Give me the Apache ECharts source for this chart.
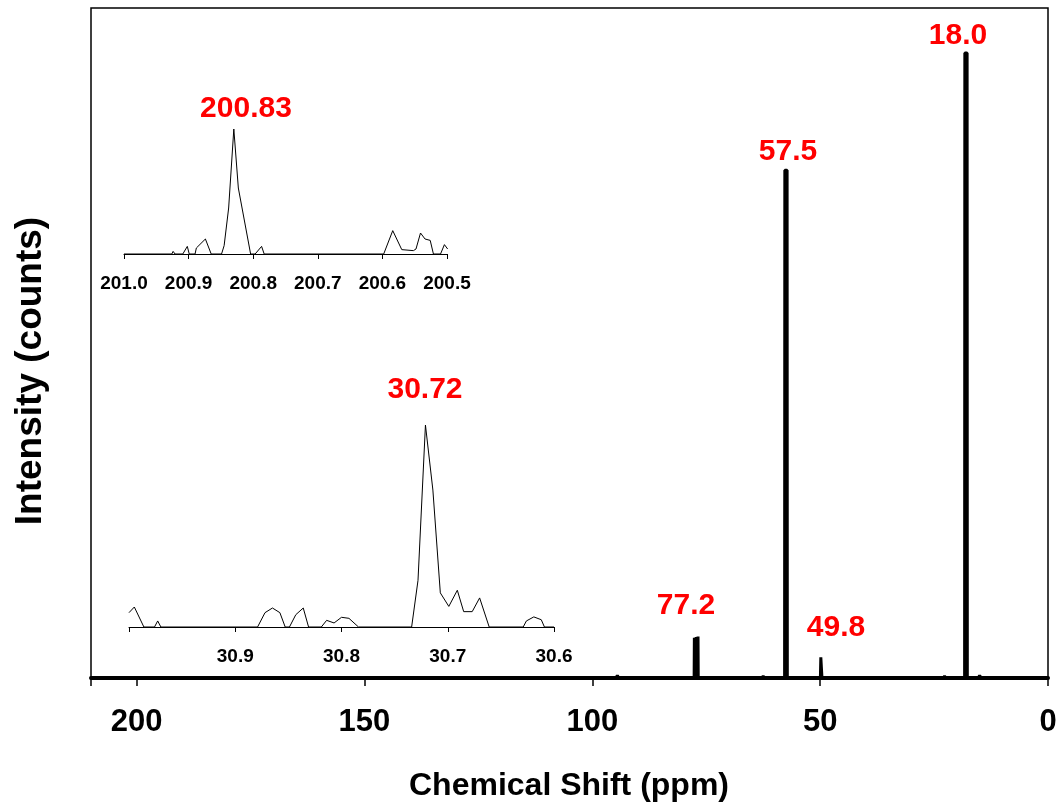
<!DOCTYPE html>
<html lang="en">
<head>
    <meta charset="UTF-8">
    <title>NMR spectrum</title>
    <style>
        html, body { margin: 0; padding: 0; background: #fff; }
    </style>
</head>
<body>
    <div id="main" style="width: 1060px;height: 804px;"></div>
    <script src="https://cdn.jsdelivr.net/npm/echarts@6/dist/echarts.min.js"></script>
    <script>
        var font = "'Liberation Sans', Arial, sans-serif";

        // main spectrum: [ppm, intensity]
        var mainSpec = [
            [210, 0], [94.8, 0], [94.5, 0.4], [94.2, 0],
            [77.65, 0], [77.6, 6.0], [77.5, 0], [77.4, 6.0], [77.3, 0], [77.2, 6.1],
            [77.1, 0], [77.0, 6.1], [76.9, 0], [76.8, 6.2], [76.75, 0],
            [62.8, 0], [62.5, 0.3], [62.2, 0],
            [57.8, 0], [57.75, 75.8], [57.25, 75.8], [57.2, 0],
            [49.95, 0], [49.85, 3.1], [49.7, 3.1], [49.6, 0],
            [23.0, 0], [22.7, 0.3], [22.4, 0],
            [18.3, 0], [18.25, 93.3], [17.75, 93.3], [17.7, 0],
            [15.3, 0], [15.0, 0.4], [14.7, 0], [0, 0]
        ];

        // inset around 200.83 ppm
        var inset1Spec = [
            [201.0, 0], [200.926, 0], [200.924, 2.1], [200.921, 0],
            [200.909, 0], [200.902, 6.1], [200.899, 0],
            [200.890, 0], [200.888, 4.8], [200.874, 12], [200.865, 0],
            [200.849, 0], [200.845, 6.7], [200.838, 36.8], [200.830, 100],
            [200.823, 52.8], [200.804, 0],
            [200.797, 0], [200.787, 6.1], [200.783, 0],
            [200.598, 0], [200.584, 18.7], [200.570, 3.5], [200.552, 2.7],
            [200.548, 4.0], [200.541, 16.8], [200.534, 12], [200.526, 10.9],
            [200.521, 0], [200.510, 0], [200.504, 7.5], [200.499, 4.0]
        ];

        // inset around 30.72 ppm
        var inset2Spec = [
            [31.0, 7.1], [30.995, 9.9], [30.986, 0],
            [30.976, 0], [30.973, 3.0], [30.970, 0],
            [30.879, 0], [30.872, 7.1], [30.865, 9.4], [30.858, 7.1], [30.853, 0],
            [30.849, 0], [30.843, 6.1], [30.836, 9.4], [30.831, 0],
            [30.819, 0], [30.814, 3.3], [30.807, 2.0], [30.800, 4.8], [30.793, 4.3], [30.784, 0],
            [30.734, 0], [30.728, 23.1], [30.721, 100], [30.714, 67.8], [30.707, 16.9],
            [30.699, 10.2], [30.691, 18.2], [30.685, 7.6], [30.677, 7.6], [30.670, 14.4], [30.661, 0],
            [30.629, 0], [30.626, 3.0], [30.619, 5.0], [30.612, 3.6], [30.609, 0], [30.6, 0]
        ];

        // peak annotations: text and centre position in px
        var peakText = ['18.0', '57.5', '77.2', '49.8', '200.83', '30.72'];
        var peakPos = [[958, 36], [788, 152], [686, 606], [836, 628], [246, 109], [425, 390]];

        var chart = echarts.init(document.getElementById('main'));

        var graphics = peakText.map(function (t, i) {
            return {
                type: 'text', x: peakPos[i][0], y: peakPos[i][1],
                style: {
                    text: t, fill: '#ff0000', font: 'bold 30px ' + font,
                    textAlign: 'center', textVerticalAlign: 'middle'
                }
            };
        });
        graphics.push({
            type: 'text', x: 569, y: 786,
            style: { text: 'Chemical Shift (ppm)', fill: '#000', font: 'bold 32px ' + font, textAlign: 'center', textVerticalAlign: 'middle' }
        });
        graphics.push({
            type: 'text', x: 31, y: 371, rotation: Math.PI / 2,
            style: { text: 'Intensity (counts)', fill: '#000', font: 'bold 37px ' + font, textAlign: 'center', textVerticalAlign: 'middle' }
        });

        function insetAxis(idx, lo, hi, hideVal) {
            return {
                gridIndex: idx, type: 'value', min: lo, max: hi, interval: 0.1, inverse: true,
                axisLine: { onZero: false, lineStyle: { color: '#000', width: 1 } },
                axisTick: { length: 5, lineStyle: { color: '#000', width: 1 } },
                splitLine: { show: false },
                axisLabel: {
                    fontSize: 19, fontWeight: 'bold', color: '#000', fontFamily: font, margin: 20,
                    formatter: function (v) {
                        var s = v.toFixed(1);
                        return s === hideVal ? '' : s;
                    }
                }
            };
        }

        chart.setOption({
            animation: false,
            graphic: graphics,
            grid: [
                { left: 91, right: 12, top: 8, bottom: 126, show: true, borderColor: '#000', borderWidth: 1.5 },
                { left: 124, right: 613, top: 129, bottom: 550 },
                { left: 129, right: 506, top: 425, bottom: 177 }
            ],
            xAxis: [
                {
                    gridIndex: 0, type: 'value', min: 0, max: 210, interval: 50, inverse: true,
                    axisLine: { lineStyle: { color: '#000', width: 4 } },
                    axisTick: { length: 8, lineStyle: { color: '#000', width: 1.5 } },
                    splitLine: { show: false },
                    axisLabel: {
                        fontSize: 31, fontWeight: 'bold', color: '#000', fontFamily: font, margin: 29,
                        formatter: function (v) { return v % 50 === 0 ? v : ''; }
                    }
                },
                insetAxis(1, 200.5, 201.0, ''),
                insetAxis(2, 30.6, 31.0, '31.0')
            ],
            yAxis: [
                { gridIndex: 0, type: 'value', min: 0, max: 100, show: false },
                { gridIndex: 1, type: 'value', min: 0, max: 100, show: false },
                { gridIndex: 2, type: 'value', min: 0, max: 100, show: false }
            ],
            series: [
                {
                    type: 'line', xAxisIndex: 0, yAxisIndex: 0, data: mainSpec,
                    showSymbol: false, lineStyle: { color: '#000', width: 3 }
                },
                {
                    type: 'line', xAxisIndex: 1, yAxisIndex: 1, data: inset1Spec,
                    showSymbol: false, lineStyle: { color: '#000', width: 1 }
                },
                {
                    type: 'line', xAxisIndex: 2, yAxisIndex: 2, data: inset2Spec,
                    showSymbol: false, lineStyle: { color: '#000', width: 1 }
                }
            ]
        });
    </script>
</body>
</html>
